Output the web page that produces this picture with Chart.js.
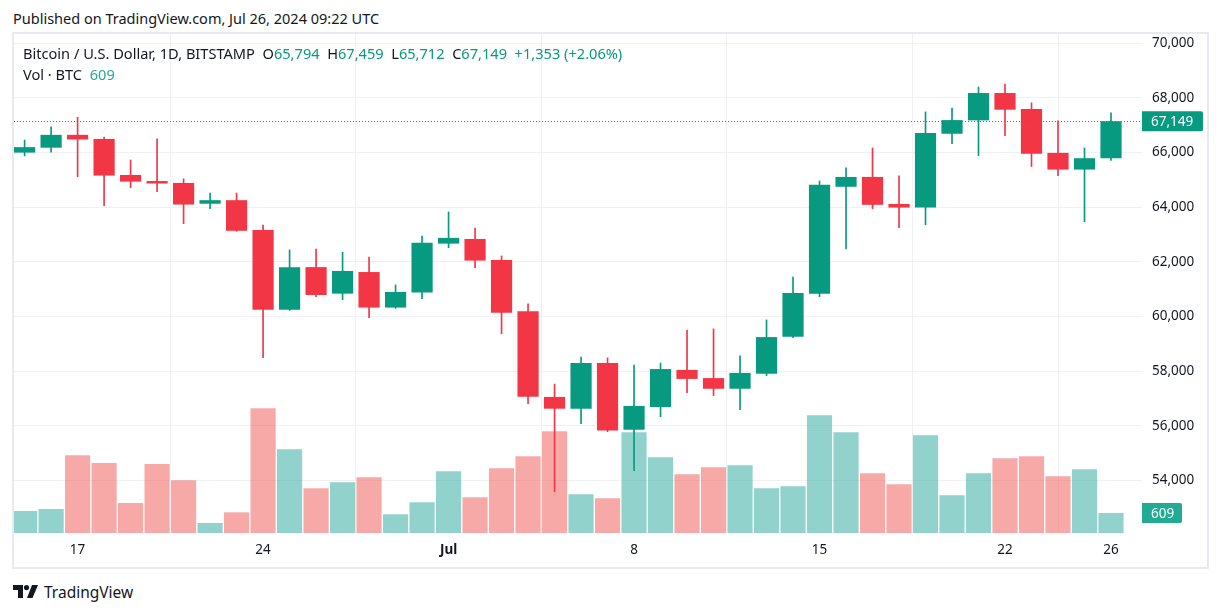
<!DOCTYPE html>
<html>
<head>
<meta charset="utf-8">
<script src="https://cdn.jsdelivr.net/npm/chart.js@4.4.1/dist/chart.umd.min.js"></script>
<style>
  body { margin:0; background:#fff; width:1222px; height:612px; position:relative; overflow:hidden; font-family:"Noto Sans", sans-serif; color:#131722; }
  #pub { position:absolute; left:13px; top:8px; font-size:14.5px; }
  #frame { position:absolute; left:12px; top:32px; width:1193px; height:533px; border:2px solid #e9eaef; }
  #chart { position:absolute; left:0; top:0; }
  #legend { position:absolute; left:9px; top:9px; font-size:14.6px; line-height:21px; white-space:pre; }
  #legend .v { color:#089981; }
  #legend .vv { color:#26a69a; }
  #logo { position:absolute; left:13px; top:581px; display:flex; align-items:center; font-size:15.5px; }
</style>
</head>
<body>
<div id="pub">Published on TradingView.com, Jul 26, 2024 09:22 UTC</div>
<div id="frame">
  <canvas id="chart" width="1193" height="533"></canvas>
  <div id="legend"></div>
</div>
<div id="logo">
  <svg width="26" height="14" viewBox="0 0 26 14"><path d="M0 0h10v13H5V5H0z" fill="#131722"/><circle cx="13.5" cy="2.6" r="2.6" fill="#131722"/><path d="M19 0h6l-5.5 13h-5.5z" fill="#131722"/></svg>
  <span style="margin-left:5px">TradingView</span>
</div>
<script>
const FONT = "'Noto Sans', sans-serif";
const GREEN = "#089981";
const RED = "#F23645";

// daily candles, Bitstamp BTC/USD
const days = [
  "Jun 15","Jun 16","Jun 17","Jun 18","Jun 19","Jun 20","Jun 21","Jun 22","Jun 23","Jun 24","Jun 25","Jun 26","Jun 27","Jun 28","Jun 29","Jun 30",
  "Jul 1","Jul 2","Jul 3","Jul 4","Jul 5","Jul 6","Jul 7","Jul 8","Jul 9","Jul 10","Jul 11","Jul 12","Jul 13","Jul 14","Jul 15","Jul 16","Jul 17","Jul 18","Jul 19","Jul 20","Jul 21","Jul 22","Jul 23","Jul 24","Jul 25","Jul 26"
];
const opens = [
  66000,66180,66650,66500,65180,64960,64890,64130,64260,63170,60250,61810,60840,61630,60330,60880,
  62670,62840,62070,60200,57060,56630,58300,55860,56690,58050,57750,57360,57910,59260,60840,64750,65110,64120,63990,66690,67180,68180,67600,65990,65380,65794
];
const highs = [
  66460,66940,67290,66570,65730,66500,65040,64520,64520,63350,62440,62470,62360,62180,61160,62950,
  63830,63240,62220,60470,57530,58520,58490,58230,58300,59510,59550,58560,59880,61450,64960,65440,66170,65150,67490,67630,68400,68510,67820,67160,66170,67459
];
const lows = [
  65880,66020,65120,64060,64720,64570,63400,63950,63120,58500,60230,60730,60620,59960,60300,60660,
  62520,61790,59370,56810,53590,56080,55790,54360,56340,57220,57110,56590,57840,59230,60730,62480,63950,63250,63360,66330,65890,66620,65490,65160,63470,65712
];
const closes = [
  66200,66650,66480,65160,64940,64870,64100,64260,63140,60250,61810,60790,61670,60330,60900,62700,
  62880,62050,60140,57070,56630,58300,55830,56730,58080,57720,57360,57940,59250,60860,64820,65110,64090,63990,66720,67190,68180,67570,65960,65380,65796,67149
];
const volumes = [
  670,731,2366,2132,914,2101,1605,305,630,3797,2549,1361,1544,1696,569,935,
  1879,1087,1970,2336,3097,1178,1057,3066,2305,1787,2001,2061,1361,1422,3584,3066,1818,1483,2975,1148,1818,2275,2336,1727,1940,609
];

const tickDays = ["Jun 17","Jun 24","Jul 1","Jul 8","Jul 15","Jul 22","Jul 26"];
const tickLabels = ["17","24","Jul","8","15","22","26"];
const priceTicks = [54000,56000,58000,60000,62000,64000,66000,68000,70000];

const isUp = i => closes[i] >= opens[i];
const fmt = v => Math.round(v).toLocaleString("en-US");
const noPad = s => { s.paddingTop = s.paddingBottom = s.paddingLeft = s.paddingRight = 0; };

// legend
const last = days.length - 1;
const chg = closes[last] - closes[last - 1];
const pct = chg / closes[last - 1] * 100;
document.getElementById("legend").innerHTML =
  `Bitcoin / U.S. Dollar, 1D, BITSTAMP  O<span class="v">${fmt(opens[last])}</span>  H<span class="v">${fmt(highs[last])}</span>  L<span class="v">${fmt(lows[last])}</span>  C<span class="v">${fmt(closes[last])}</span>  <span class="v">+${fmt(chg)} (+${pct.toFixed(2)}%)</span>\n` +
  `Vol · BTC  <span class="vv">${fmt(volumes[last])}</span>`;

// last price line + axis badges
const badges = {
  id: "badges",
  afterDatasetsDraw(chart) {
    const { ctx, chartArea, scales } = chart;
    const yp = scales.y.getPixelForValue(closes[last]);
    ctx.save();
    ctx.strokeStyle = GREEN;
    ctx.lineWidth = 1;
    ctx.setLineDash([1, 2]);
    ctx.beginPath();
    ctx.moveTo(chartArea.left, Math.round(yp) + 0.5);
    ctx.lineTo(chartArea.right, Math.round(yp) + 0.5);
    ctx.stroke();
    ctx.setLineDash([]);

    const box = (txt, y, w, bg) => {
      ctx.fillStyle = bg;
      ctx.beginPath();
      ctx.roundRect(chartArea.right, y - 10, w, 20, [0, 2, 2, 0]);
      ctx.fill();
      ctx.fillStyle = "#fff";
      ctx.font = `13.5px ${FONT}`;
      ctx.textBaseline = "middle";
      ctx.fillText(txt, chartArea.right + 9, y + 1);
    };
    box(fmt(closes[last]), yp, 61, GREEN);
    box(fmt(volumes[last]), scales.yv.getPixelForValue(volumes[last]), 40, "#22ab94");
    ctx.restore();
  }
};

const xs = days.map((d, i) => i);

new Chart(document.getElementById("chart"), {
  type: "bar",
  data: {
    datasets: [
      {
        label: "Body",
        data: xs.map(i => ({ x: i, y: [opens[i], closes[i]] })),
        backgroundColor: c => isUp(c.dataIndex) ? GREEN : RED,
        grouped: false, categoryPercentage: 1, barPercentage: 0.8,
        minBarLength: 2, borderWidth: 0, borderSkipped: false,
        yAxisID: "y", order: 1
      },
      {
        label: "Wick",
        data: xs.map(i => ({ x: i, y: [lows[i], highs[i]] })),
        backgroundColor: c => isUp(c.dataIndex) ? GREEN : RED,
        grouped: false, barThickness: 1,
        borderWidth: 0, borderSkipped: false,
        yAxisID: "y", order: 2
      },
      {
        label: "Volume",
        data: xs.map(i => ({ x: i, y: volumes[i] })),
        backgroundColor: c => isUp(c.dataIndex) ? "rgba(38,166,154,0.5)" : "rgba(239,83,80,0.5)",
        grouped: false, categoryPercentage: 1, barPercentage: 0.95,
        borderWidth: 0,
        yAxisID: "yv", order: 3
      }
    ]
  },
  options: {
    responsive: false,
    animation: false,
    layout: { padding: 0 },
    plugins: { legend: { display: false }, tooltip: { enabled: false } },
    scales: {
      x: {
        type: "linear",
        offset: false,
        min: -0.4, max: 42.17,
        afterBuildTicks: s => { s.ticks = tickDays.map(d => ({ value: days.indexOf(d) })); },
        afterFit: s => { s.height = 34; noPad(s); },
        grid: { color: "#f0f1f5", drawTicks: false },
        border: { display: false },
        ticks: {
          padding: 9,
          color: "#131722",
          maxRotation: 0,
          autoSkip: false,
          font: c => ({ family: FONT, size: 13.5, weight: c.tick && days[c.tick.value] === "Jul 1" ? "bold" : "normal" }),
          callback: v => tickLabels[tickDays.indexOf(days[v])]
        }
      },
      y: {
        position: "right",
        min: 52082, max: 70340,
        afterBuildTicks: s => { s.ticks = priceTicks.map(v => ({ value: v })); },
        afterFit: s => { s.width = 65; noPad(s); },
        grid: { color: "#f0f1f5", drawTicks: false },
        border: { display: false },
        ticks: { padding: 10, color: "#131722", font: { family: FONT, size: 13.5 }, callback: v => fmt(v) }
      },
      yv: {
        display: false,
        min: 0, max: 15195
      }
    }
  },
  plugins: [badges]
});
</script>
</body>
</html>
